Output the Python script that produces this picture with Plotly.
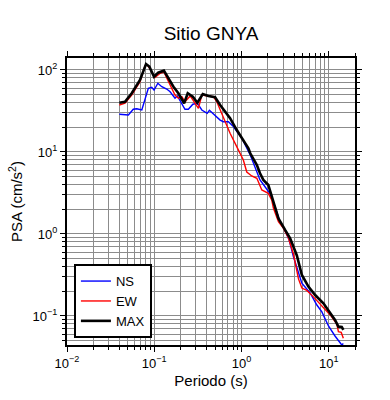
import plotly.graph_objects as go

# ---- data ----
ns_period = [0.0398, 0.0462, 0.0505, 0.0575, 0.0630, 0.0720, 0.0783, 0.0855, 0.0935, 0.0995,
             0.110, 0.122, 0.139, 0.152, 0.173, 0.184, 0.225, 0.246, 0.277, 0.312,
             0.351, 0.404, 0.429, 0.498, 0.569, 0.619, 0.708, 0.807, 0.920, 1.01,
             1.26, 1.43, 1.63, 1.87, 2.13, 2.43, 2.77, 3.16, 3.52, 3.94,
             4.50, 4.92, 6.12, 7.31, 8.34, 9.93, 11.8, 13.5, 14.1, 14.7]
ns_psa = [28.8, 28.8, 28.3, 33.2, 33.7, 32.5, 43.0, 59.8, 61.5, 57.0,
          68.9, 62.5, 58.6, 54.3, 45.2, 48.2, 33.2, 33.2, 38.2, 39.3,
          32.5, 29.6, 32.3, 28.3, 24.5, 23.4, 23.4, 20.4, 16.9, 14.7,
          9.18, 6.56, 4.56, 3.74, 3.08, 2.13, 1.40, 1.09, 0.845, 0.528,
          0.332, 0.251, 0.191, 0.136, 0.112, 0.0755, 0.0570, 0.0469, 0.0443, 0.0462]

ew_period = [0.0398, 0.0462, 0.0552, 0.0687, 0.0783, 0.0817, 0.0879, 0.102, 0.117, 0.129,
             0.152, 0.173, 0.189, 0.207, 0.225, 0.258, 0.321, 0.351, 0.417, 0.476,
             0.521, 0.619, 0.740, 0.920, 1.05, 1.15, 1.31, 1.50, 1.71, 2.03,
             2.22, 2.32, 2.65, 3.03, 3.45, 3.94, 4.50, 4.92, 5.61, 6.68,
             8.34, 10.4, 12.4, 12.9, 13.9, 14.7]
ew_psa = [37.4, 39.3, 49.5, 71.9, 112, 117, 106, 81.1, 91.2, 94.6,
          65.6, 49.5, 45.2, 47.2, 41.0, 48.2, 34.1, 49.5, 48.2, 47.2,
          41.0, 25.8, 16.9, 10.6, 7.98, 5.70, 5.10, 4.78, 3.44, 3.13,
          2.60, 2.07, 1.41, 1.17, 0.894, 0.570, 0.283, 0.219, 0.205, 0.171,
          0.132, 0.103, 0.0798, 0.0644, 0.0630, 0.0534]

max_period = [0.0398, 0.0462, 0.0552, 0.0687, 0.0805, 0.0879, 0.0995, 0.111, 0.129, 0.145,
              0.166, 0.189, 0.220, 0.242, 0.277, 0.312, 0.360, 0.417, 0.498, 0.569,
              0.649, 0.740, 0.883, 1.01, 1.20, 1.26, 1.50, 1.63, 1.78, 2.03,
              2.32, 2.65, 3.16, 3.61, 4.31, 4.92, 5.85, 6.98, 8.69, 9.93,
              11.8, 12.9, 14.1, 14.7]
max_psa = [39.9, 41.0, 52.0, 75.5, 118, 110, 82.8, 92.7, 98.0, 79.2,
           62.5, 52.0, 39.3, 52.0, 47.2, 39.9, 50.9, 48.2, 46.5, 37.4,
           31.0, 25.8, 18.5, 14.7, 11.1, 9.64, 6.93, 5.50, 4.56, 3.96,
           2.48, 1.55, 1.12, 0.887, 0.547, 0.316, 0.228, 0.180, 0.143, 0.118,
           0.0893, 0.0741, 0.0735, 0.0675]

x_tick_vals = [0.01, 0.1, 1, 10]
x_tick_text = ["10<sup>\u22122</sup>", "10<sup>\u22121</sup>", "10<sup>0</sup>", "10<sup>1</sup>"]
y_tick_vals = [0.1, 1, 10, 100]
y_tick_text = ["10<sup>\u22121</sup>", "10<sup>0</sup>", "10<sup>1</sup>", "10<sup>2</sup>"]

# minor grid positions (2..9 in each decade)
x_minor = [m * d for d in [0.01, 0.1, 1, 10] for m in range(2, 10)]
y_minor = [m * d for d in [0.01, 0.1, 1, 10, 100] for m in range(2, 10)]

FONT = "Liberation Sans, Arial, Helvetica, sans-serif"
GRID = "#8c8c8c"

fig = go.Figure()
fig.add_trace(go.Scatter(x=ns_period, y=ns_psa, mode="lines", name="NS",
                         line=dict(color="#0000ff", width=1.4)))
fig.add_trace(go.Scatter(x=ew_period, y=ew_psa, mode="lines", name="EW",
                         line=dict(color="#ff0000", width=1.4)))
fig.add_trace(go.Scatter(x=max_period, y=max_psa, mode="lines", name="MAX",
                         line=dict(color="#000000", width=2.6)))

axis_common = dict(
    type="log",
    showline=True, linecolor="black", linewidth=2, mirror="ticks",
    ticks="outside", ticklen=5, tickwidth=1, tickcolor="black",
    showgrid=True, gridcolor=GRID, gridwidth=0.8,
    zeroline=False,
    tickfont=dict(family=FONT, size=13, color="black"),
)

fig.update_xaxes(
    **axis_common,
    range=[-2, 1.301],
    tickvals=x_tick_vals, ticktext=x_tick_text,
    minor=dict(tickvals=x_minor, ticks="outside", ticklen=3, tickcolor="black",
               showgrid=True, gridcolor=GRID, gridwidth=0.8),
    title=dict(text="Periodo (s)", font=dict(family=FONT, size=15, color="black"), standoff=6),
)
fig.update_yaxes(
    **axis_common,
    range=[-1.354, 2.146],
    tickvals=y_tick_vals, ticktext=y_tick_text,
    minor=dict(tickvals=y_minor, ticks="outside", ticklen=3, tickcolor="black",
               showgrid=True, gridcolor=GRID, gridwidth=0.8),
    title=dict(text="PSA (cm/s<sup>2</sup>)", font=dict(family=FONT, size=15, color="black"), standoff=6),
)

fig.update_layout(
    width=390, height=400,
    margin=dict(l=67, r=35, t=58, b=55),
    paper_bgcolor="white", plot_bgcolor="white",
    title=dict(text="Sitio GNYA", x=(67 + 144) / 390, xanchor="center",
               y=1 - 33 / 400, yanchor="middle",
               font=dict(family=FONT, size=19, color="black")),
    legend=dict(x=0.024, y=0.024, xanchor="left", yanchor="bottom",
                bgcolor="white", bordercolor="black", borderwidth=2,
                font=dict(family=FONT, size=13, color="black"),
                itemwidth=30, tracegroupgap=0),
    showlegend=True,
)

fig.write_html("out.html",
               config={"displayModeBar": False},
               post_script="document.body.style.margin='0';document.body.style.padding='0';")
